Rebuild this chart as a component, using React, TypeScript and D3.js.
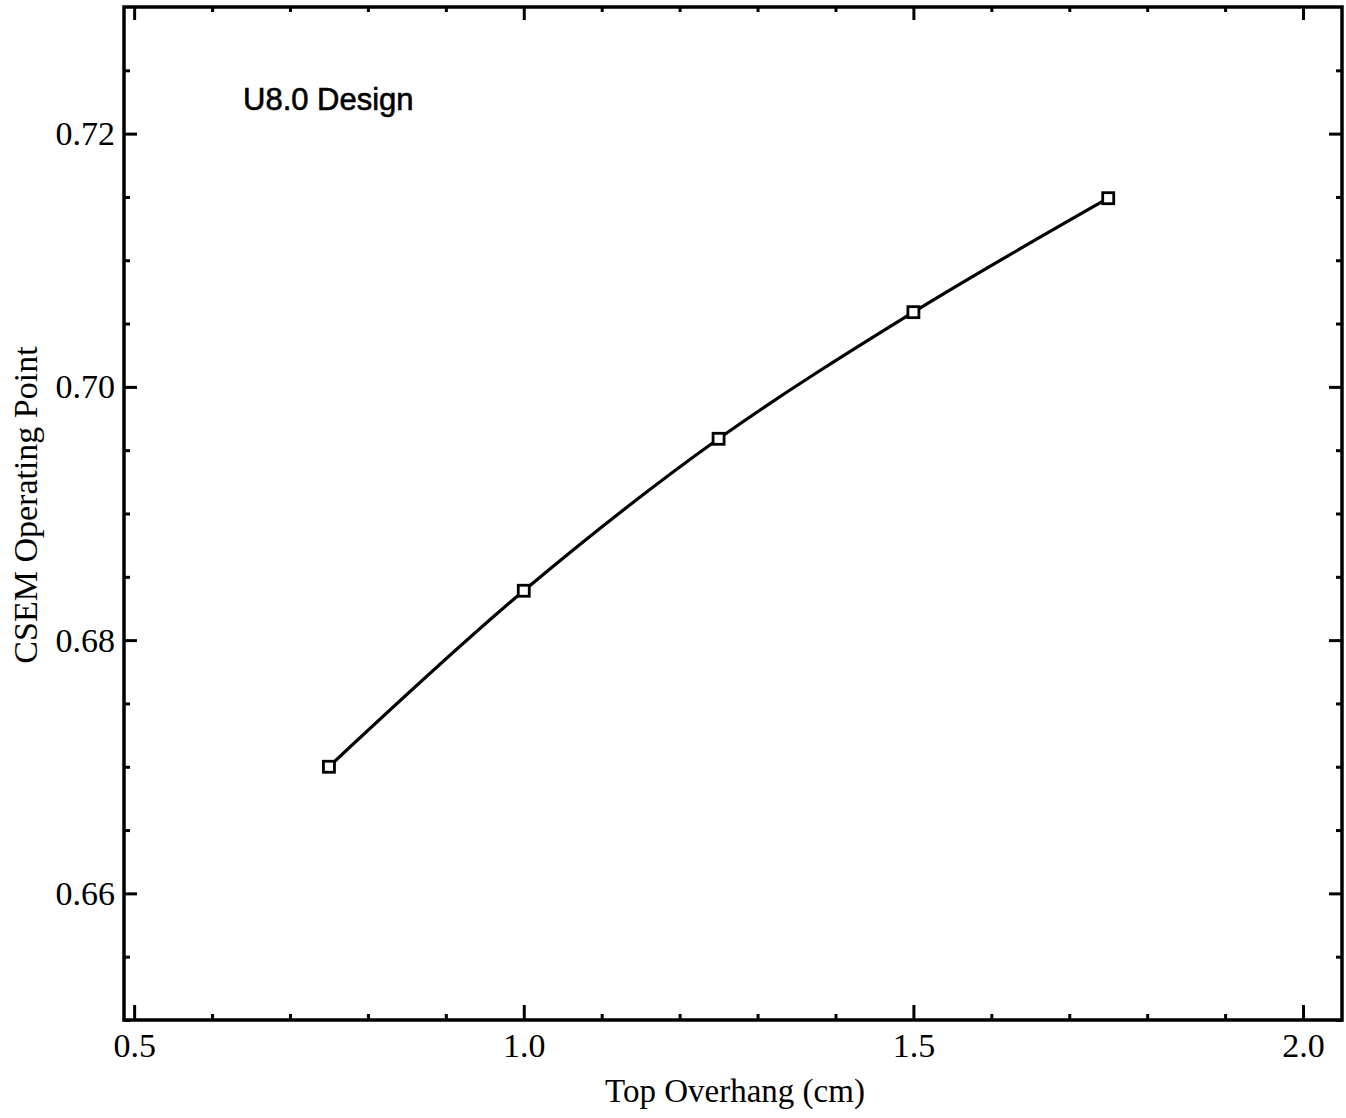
import React, { useEffect, useRef } from "react";
import * as d3 from "d3";

// data
const overhang = [0.75, 1.0, 1.25, 1.5, 1.75];
const operatingPoint = [0.670, 0.6839, 0.6959, 0.7059, 0.7149];
const xMajor = [0.5, 1.0, 1.5, 2.0];
const yMajor = [0.66, 0.68, 0.70, 0.72];

const App = () => {
  const svgRef = useRef<SVGSVGElement>(null);

  useEffect(() => {
    const width = 1346, height = 1118;
    const box = { left: 124, right: 1342, top: 7, bottom: 1020 };

    const svg = d3.select(svgRef.current)
      .attr("width", width)
      .attr("height", height)
      .style("background", "#fff");
    svg.selectAll("*").remove();

    const x = d3.scaleLinear().domain([0.487, 2.05]).range([box.left, box.right]);
    const y = d3.scaleLinear().domain([0.65, 0.73]).range([box.bottom, box.top]);

    const xMinor = d3.range(5, 21).map(d => d / 10).filter(d => !xMajor.some(m => Math.abs(m - d) < 1e-9));
    const yMinor = d3.range(130, 146).map(d => d / 200).filter(d => !yMajor.some(m => Math.abs(m - d) < 1e-9));

    const serif = "'Liberation Serif', 'Times New Roman', serif";

    const styleAxis = (g: any) => {
      g.select(".domain").remove();
      g.selectAll("line").attr("stroke", "#000").attr("stroke-width", 3);
      g.selectAll("text").attr("fill", "#000").style("font-family", serif).style("font-size", "34px");
    };

    // bottom
    svg.append("g").attr("transform", `translate(0,${box.bottom})`)
      .call(d3.axisBottom(x).tickValues(xMajor).tickSize(-15).tickPadding(13).tickFormat(d3.format(".1f")))
      .call(styleAxis);
    svg.append("g").attr("transform", `translate(0,${box.bottom})`)
      .call(d3.axisBottom(x).tickValues(xMinor).tickSize(-6).tickFormat(() => ""))
      .call(styleAxis);
    // top
    svg.append("g").attr("transform", `translate(0,${box.top})`)
      .call(d3.axisTop(x).tickValues(xMajor).tickSize(-13).tickFormat(() => ""))
      .call(styleAxis);
    svg.append("g").attr("transform", `translate(0,${box.top})`)
      .call(d3.axisTop(x).tickValues(xMinor).tickSize(-5).tickFormat(() => ""))
      .call(styleAxis);
    // left
    svg.append("g").attr("transform", `translate(${box.left},0)`)
      .call(d3.axisLeft(y).tickValues(yMajor).tickSize(-13).tickPadding(9).tickFormat(d3.format(".2f")))
      .call(styleAxis);
    svg.append("g").attr("transform", `translate(${box.left},0)`)
      .call(d3.axisLeft(y).tickValues(yMinor).tickSize(-6).tickFormat(() => ""))
      .call(styleAxis);
    // right
    svg.append("g").attr("transform", `translate(${box.right},0)`)
      .call(d3.axisRight(y).tickValues(yMajor).tickSize(-13).tickFormat(() => ""))
      .call(styleAxis);
    svg.append("g").attr("transform", `translate(${box.right},0)`)
      .call(d3.axisRight(y).tickValues(yMinor).tickSize(-6).tickFormat(() => ""))
      .call(styleAxis);

    // frame
    svg.append("rect")
      .attr("x", box.left).attr("y", box.top)
      .attr("width", box.right - box.left).attr("height", box.bottom - box.top)
      .attr("fill", "none").attr("stroke", "#000").attr("stroke-width", 3.5);

    // curve
    const pts = overhang.map((v, i) => [v, operatingPoint[i]] as [number, number]);
    const line = d3.line<[number, number]>()
      .x(d => x(d[0]))
      .y(d => y(d[1]))
      .curve(d3.curveCatmullRom);
    svg.append("path")
      .datum(pts)
      .attr("d", line)
      .attr("fill", "none")
      .attr("stroke", "#000")
      .attr("stroke-width", 3.2);

    // markers
    const s = 11;
    svg.selectAll("rect.pt")
      .data(pts)
      .enter()
      .append("rect")
      .attr("class", "pt")
      .attr("x", d => x(d[0]) - s / 2)
      .attr("y", d => y(d[1]) - s / 2)
      .attr("width", s).attr("height", s)
      .attr("fill", "#fff")
      .attr("stroke", "#000")
      .attr("stroke-width", 2.8);

    // annotation
    svg.append("text")
      .attr("x", 243).attr("y", 110)
      .style("font-family", "'Liberation Sans', Arial, sans-serif")
      .style("font-size", "31px")
      .style("stroke", "#000")
      .style("stroke-width", 0.6)
      .attr("fill", "#000")
      .text("U8.0 Design");

    // X-axis label
    svg.append("text")
      .attr("x", 735).attr("y", 1102)
      .style("text-anchor", "middle")
      .style("font-family", serif)
      .style("font-size", "33px")
      .text("Top Overhang (cm)");

    // Y-axis label
    svg.append("text")
      .attr("transform", "rotate(-90)")
      .attr("x", -505).attr("y", 37)
      .style("text-anchor", "middle")
      .style("font-family", serif)
      .style("font-size", "34px")
      .text("CSEM Operating Point");
  }, []);

  return (
    <div style={{ position: "absolute", left: 0, top: 0 }}>
      <svg ref={svgRef}></svg>
    </div>
  );
};

export default App;
